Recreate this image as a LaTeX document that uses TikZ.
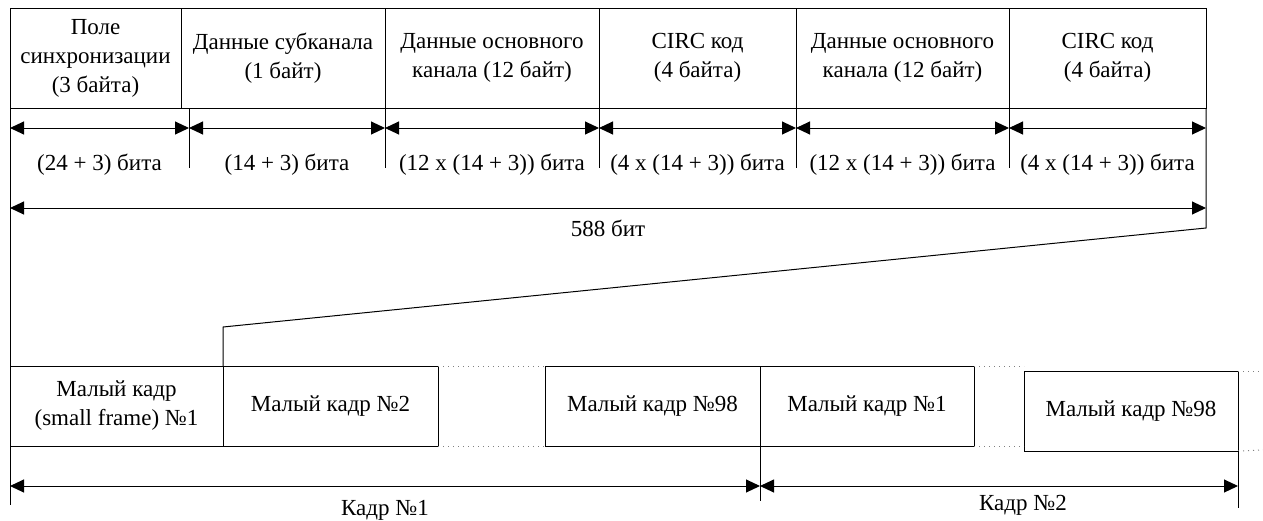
\documentclass[tikz,border=0pt]{standalone}
\usepackage{fontspec}
\setmainfont{Liberation Serif}
\usetikzlibrary{positioning,arrows.meta}

\begin{document}
\begin{tikzpicture}[x=0.5pt,y=-0.5pt,line width=0.5pt,
	>={Triangle[length=7pt,width=6.5pt]},
	font=\fontsize{11.5}{14.5}\selectfont,
	field/.style={draw, align=center, inner sep=0pt, outer sep=0pt,%
		minimum height=50pt},
	subframe/.style={draw, align=center, inner sep=0pt, outer sep=0pt,%
		minimum height=40pt},
	dim/.style={<->},
	gap/.style={gray, dotted}]
	\useasboundingbox (0,0) rectangle (1263,520);
	% поля малого кадра
	\node[field, minimum width=85.5pt, anchor=north west] (f1) at (10,8)
		{Поле\\синхронизации\\(3 байта)};
	\node[field, minimum width=102pt, right=0pt of f1] (f2) {Данные субканала\\(1 байт)};
	\node[field, minimum width=107pt, right=0pt of f2] (f3) {Данные основного\\канала (12 байт)};
	\node[field, minimum width=98.5pt, right=0pt of f3] (f4) {CIRC код\\(4 байта)};
	\node[field, minimum width=106.5pt, right=0pt of f4] (f5) {Данные основного\\канала (12 байт)};
	\node[field, minimum width=98.5pt, right=0pt of f5] (f6) {CIRC код\\(4 байта)};
	% размеры в битах
	\foreach \x [count=\i] in {10,189,385,599,796,1009,1206}
		\coordinate (t\i) at (\x,128);
	\foreach \x in {189,385,599,796,1009}
		\draw (\x,108) -- (\x,168);
	\foreach \i [evaluate=\i as \j using int(\i+1)] in {1,...,6}
		\draw[dim] (t\i) -- (t\j);
	\foreach \x/\t [count=\i] in {99.5/{(24 + 3) бита}, 287/{(14 + 3) бита},%
		492/{(12 x (14 + 3)) бита}, 697.5/{(4 x (14 + 3)) бита},%
		902.5/{(12 x (14 + 3)) бита}, 1107.5/{(4 x (14 + 3)) бита}}
		\node (b\i) at (\x,165) {\t};
	\coordinate (all1) at (10,208);
	\coordinate (all2) at (1206,208);
	\draw[dim] (all1) -- (all2);
	\node (bits) at (608,228) {588 бит};
	% кадры
	\node[subframe, minimum width=106.5pt, anchor=north west] (s1) at (10,366)
		{Малый кадр\\(small frame) №1};
	\node[subframe, minimum width=107.5pt, right=0pt of s1] (s2) {Малый кадр №2};
	\node[subframe, minimum width=107.5pt, anchor=north west] (s3) at (545,366) {Малый кадр №98};
	\node[subframe, minimum width=107pt, right=0pt of s3] (s4) {Малый кадр №1};
	\node[subframe, minimum width=107pt, anchor=north west] (s5) at (1024,371) {Малый кадр №98};
	\draw[gap] (s2.north east) -- (s3.north west);
	\draw[gap] (s2.south east) -- (s3.south west);
	\draw[gap] (s4.north east) -- (s4.north east -| s5.west);
	\draw[gap] (s4.south east) -- (s4.south east -| s5.west);
	\draw[gap] (s5.north east) -- (1263,371);
	\draw[gap] (s5.south east) -- (1263,450);
	% развёртка
	\draw (f1.north west) -- (10,505);
	\draw (f6.south east) -- (1206,228) -- (223,327) -- (s2.north west);
	\draw (s4.south west) -- (760,501);
	\draw (s5.south east) -- (1238,508);
	\coordinate (k1) at (10,486);
	\coordinate (k2) at (760,486);
	\coordinate (k3) at (1238,486);
	\draw[dim] (k1) -- (k2);
	\draw[dim] (k2) -- (k3);
	\node (frame1) at (385,510) {Кадр №1};
	\node (frame2) at (1023,505) {Кадр №2};
\end{tikzpicture}
\end{document}
